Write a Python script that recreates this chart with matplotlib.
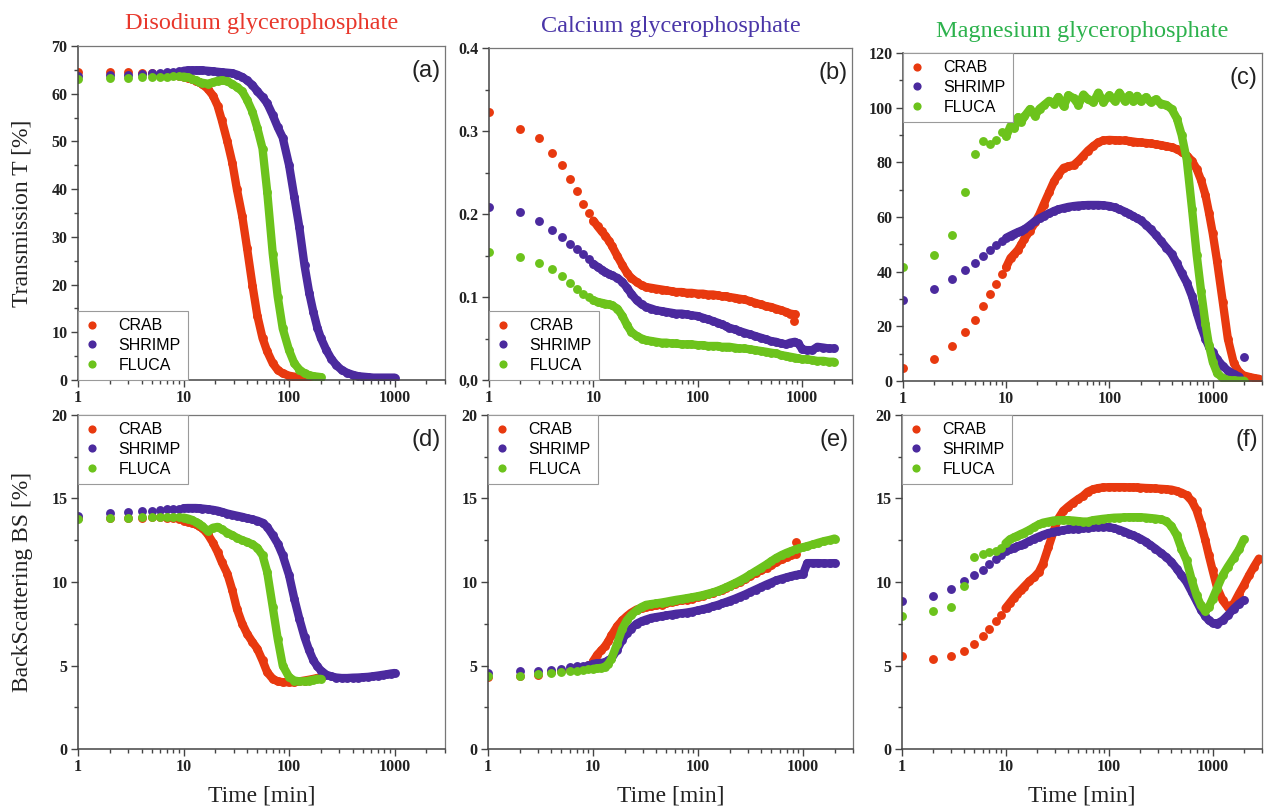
import numpy as np
import matplotlib
matplotlib.use("Agg")
import matplotlib.pyplot as plt
from matplotlib.lines import Line2D
from matplotlib.ticker import LogLocator, NullFormatter, MultipleLocator

W, H = 1266, 811

# sampling times [min], shared by all series (a series uses the first len(values))
TIME = [1, 2, 3, 4, 5, 6, 7, 8, 9, 10,
        11, 12, 13, 14, 15, 17, 19, 21, 23, 26,
        29, 32, 36, 40, 45, 50, 56, 62, 70, 78,
        87, 100, 112, 125, 140, 155, 170, 185, 200, 225,
        250, 280, 315, 355, 400, 450, 500, 560, 630, 700,
        770, 850, 920, 1000, 1100, 1250, 1400, 1600, 1800, 2000,
        2250, 2500, 2800]

# (a) transmission, disodium glycerophosphate
na_t_crab = [64.5, 64.5, 64.5, 64.4, 64.3, 64.2, 64.1, 64.0, 63.8, 63.6,
             63.3, 63.0, 62.7, 62.4, 62.0, 61.0, 59.6, 57.5, 54.5, 50.0,
             45.5, 40.0, 34.3, 27.6, 19.8, 13.5, 8.8, 6.0, 3.5, 2.1,
             1.4, 0.9, 0.7, 0.5, 0.4, 0.35]
na_t_shrimp = [63.8, 63.9, 64.0, 64.1, 64.3, 64.4, 64.5, 64.6, 64.7, 64.8,
               64.9, 64.9, 64.9, 64.9, 64.9, 64.8, 64.7, 64.6, 64.5, 64.4,
               64.3, 64.0, 63.5, 62.8, 61.8, 60.5, 59.3, 58.0, 55.5, 53.0,
               50.8, 45.0, 38.4, 32.0, 24.0, 18.3, 14.2, 11.0, 8.8, 6.3,
               4.5, 3.1, 2.1, 1.5, 1.1, 0.8, 0.7, 0.6, 0.5, 0.5,
               0.5, 0.5, 0.5, 0.5]
na_t_fluca = [63.0, 63.2, 63.3, 63.4, 63.4, 63.5, 63.6, 63.7, 63.7, 63.6,
              63.4, 63.1, 62.8, 62.5, 62.3, 62.1, 62.4, 62.7, 62.8, 62.6,
              62.0, 61.4, 60.5, 58.7, 56.2, 52.8, 48.5, 39.5, 26.5, 17.5,
              10.8, 6.2, 3.5, 2.2, 1.4, 1.0, 0.8, 0.7, 0.6]

# (b) transmission, calcium glycerophosphate
ca_t_crab = [0.323, 0.302, 0.291, 0.273, 0.259, 0.242, 0.228, 0.212, 0.201, 0.192,
             0.185, 0.179, 0.174, 0.168, 0.162, 0.149, 0.138, 0.129, 0.123, 0.118,
             0.114, 0.112, 0.111, 0.110, 0.109, 0.108, 0.107, 0.106, 0.106, 0.105,
             0.105, 0.104, 0.104, 0.103, 0.103, 0.102, 0.101, 0.101, 0.100, 0.099,
             0.098, 0.097, 0.095, 0.093, 0.091, 0.089, 0.088, 0.086, 0.084, 0.082,
             0.080, 0.079]
ca_t_shrimp = [0.208, 0.202, 0.191, 0.181, 0.172, 0.164, 0.158, 0.152, 0.146, 0.140,
               0.136, 0.133, 0.130, 0.128, 0.126, 0.123, 0.118, 0.111, 0.104, 0.096,
               0.091, 0.088, 0.086, 0.084, 0.083, 0.082, 0.081, 0.080, 0.080, 0.079,
               0.078, 0.077, 0.075, 0.073, 0.071, 0.069, 0.067, 0.065, 0.063, 0.061,
               0.059, 0.057, 0.055, 0.053, 0.051, 0.049, 0.047, 0.046, 0.044, 0.043,
               0.045, 0.046, 0.044, 0.037, 0.036, 0.036, 0.040, 0.039, 0.038, 0.038]
ca_t_fluca = [0.154, 0.148, 0.141, 0.134, 0.125, 0.117, 0.110, 0.104, 0.100, 0.096,
              0.094, 0.093, 0.092, 0.091, 0.090, 0.086, 0.077, 0.066, 0.058, 0.053,
              0.050, 0.048, 0.047, 0.046, 0.045, 0.045, 0.044, 0.044, 0.043, 0.043,
              0.043, 0.042, 0.042, 0.041, 0.041, 0.041, 0.040, 0.040, 0.040, 0.039,
              0.038, 0.038, 0.037, 0.036, 0.035, 0.034, 0.033, 0.032, 0.030, 0.029,
              0.028, 0.027, 0.026, 0.025, 0.025, 0.024, 0.023, 0.023, 0.022, 0.022]
ca_t_crab_extra = ([840], [0.071])

# (c) transmission, magnesium glycerophosphate
mg_t_crab = [4.8, 8.2, 12.8, 17.9, 22.4, 27.3, 32.0, 35.6, 39.0, 41.7,
             45.0, 46.5, 48.0, 50.0, 52.0, 55.0, 58.0, 61.0, 64.5, 69.0,
             73.0, 75.5, 78.0, 78.5, 79.0, 80.5, 82.5, 84.3, 86.0, 87.3,
             88.0, 88.2, 88.1, 88.0, 88.0, 87.8, 87.6, 87.4, 87.3, 87.1,
             86.9, 86.6, 86.3, 85.9, 85.5, 84.8, 83.8, 82.5, 80.5, 77.5,
             73.5, 68.0, 61.5, 54.0, 44.0, 29.0, 15.5, 6.5, 3.2, 2.0,
             1.5, 1.1, 0.8]
mg_t_shrimp = [29.8, 33.8, 37.3, 40.5, 43.2, 45.6, 47.8, 49.6, 51.2, 52.4,
               53.2, 53.9, 54.5, 55.0, 55.5, 57.0, 58.5, 59.5, 60.3, 61.3,
               62.2, 62.8, 63.3, 63.7, 64.0, 64.2, 64.3, 64.4, 64.4, 64.4,
               64.3, 64.0, 63.5, 62.8, 62.0, 61.2, 60.3, 59.5, 58.8, 57.2,
               55.5, 53.5, 51.2, 48.8, 46.5, 43.0, 39.5, 36.0, 31.0, 25.0,
               20.0, 15.5, 12.5, 10.5, 8.0, 5.5, 3.8, 2.5, 1.6]
mg_t_shrimp_extra = ([2000], [8.8])
mg_t_fluca = [41.7, 46.0, 53.5, 69.0, 83.2, 87.8, 86.6, 88.3, 91.0, 89.5,
              93.3, 92.5, 96.5, 94.8, 96.8, 99.5, 97.0, 99.6, 100.8, 102.5,
              101.5, 103.9, 100.5, 104.5, 103.5, 101.0, 104.8, 103.0, 102.0, 105.5,
              102.0, 104.5, 102.5, 105.5, 102.5, 104.5, 102.3, 104.3, 102.3, 103.8,
              102.0, 103.0, 101.5, 101.0, 99.5, 96.0, 90.0, 81.0, 63.0, 46.0,
              33.0, 21.0, 13.0, 7.0, 3.0, 1.0, 0.4, 0.2, 0.1, 0.1]

# (d) backscattering, disodium glycerophosphate
na_bs_crab = [13.82, 13.82, 13.82, 13.86, 13.88, 13.88, 13.86, 13.82, 13.76, 13.68,
              13.62, 13.55, 13.45, 13.35, 13.25, 12.85, 12.35, 11.8, 11.2, 10.5,
              9.5, 8.4, 7.5, 6.9, 6.4, 6.0, 5.3, 4.6, 4.2, 4.05,
              4.0, 4.0, 4.0, 4.05, 4.1, 4.15, 4.2, 4.25, 4.25]
na_bs_shrimp = [13.98, 14.12, 14.18, 14.24, 14.28, 14.32, 14.36, 14.38, 14.40, 14.42,
                14.43, 14.43, 14.43, 14.42, 14.40, 14.36, 14.32, 14.27, 14.20, 14.10,
                14.03, 13.97, 13.90, 13.82, 13.75, 13.67, 13.55, 13.30, 12.80, 12.30,
                11.60, 10.40, 9.00, 7.80, 6.70, 5.90, 5.30, 4.95, 4.70, 4.45,
                4.35, 4.28, 4.25, 4.25, 4.27, 4.28, 4.30, 4.32, 4.36, 4.40,
                4.44, 4.48, 4.52, 4.55]
na_bs_fluca = [13.76, 13.82, 13.84, 13.88, 13.90, 13.90, 13.90, 13.90, 13.88, 13.86,
               13.80, 13.72, 13.60, 13.50, 13.35, 13.05, 13.25, 13.30, 13.15, 12.95,
               12.80, 12.65, 12.50, 12.40, 12.25, 12.05, 11.60, 10.60, 8.50, 6.60,
               5.00, 4.30, 4.10, 4.05, 4.05, 4.10, 4.15, 4.20, 4.20]

# (e) backscattering, calcium glycerophosphate
ca_bs_crab = [4.29, 4.35, 4.45, 4.59, 4.65, 4.72, 4.80, 4.89, 5.05, 5.24,
              5.65, 5.90, 6.15, 6.45, 6.80, 7.35, 7.70, 7.95, 8.15, 8.35,
              8.45, 8.50, 8.55, 8.60, 8.65, 8.72, 8.80, 8.85, 8.90, 8.95,
              9.00, 9.10, 9.18, 9.27, 9.35, 9.45, 9.55, 9.65, 9.75, 9.90,
              10.00, 10.15, 10.35, 10.55, 10.70, 10.85, 11.00, 11.20, 11.35, 11.50,
              11.60, 11.70]
ca_bs_crab_extra = ([850], [12.4])
ca_bs_shrimp = [4.55, 4.65, 4.69, 4.75, 4.81, 4.89, 4.95, 4.99, 5.05, 5.10,
                5.13, 5.15, 5.20, 5.30, 5.42, 5.95, 6.55, 6.95, 7.20, 7.50,
                7.65, 7.75, 7.85, 7.90, 7.95, 8.00, 8.05, 8.10, 8.13, 8.17,
                8.22, 8.30, 8.37, 8.45, 8.55, 8.63, 8.72, 8.80, 8.88, 9.00,
                9.12, 9.25, 9.40, 9.55, 9.70, 9.85, 9.97, 10.10, 10.20, 10.28,
                10.35, 10.42, 10.45, 10.45, 11.13, 11.13, 11.13, 11.12, 11.12, 11.13]
ca_bs_fluca = [4.40, 4.40, 4.49, 4.55, 4.60, 4.65, 4.70, 4.75, 4.78, 4.80,
               4.83, 4.86, 4.92, 5.10, 5.40, 6.30, 7.20, 7.70, 8.00, 8.30,
               8.50, 8.63, 8.68, 8.72, 8.77, 8.82, 8.88, 8.93, 8.98, 9.03,
               9.08, 9.15, 9.22, 9.30, 9.38, 9.48, 9.58, 9.68, 9.78, 9.93,
               10.08, 10.25, 10.45, 10.65, 10.85, 11.05, 11.25, 11.45, 11.62, 11.75,
               11.85, 11.95, 12.02, 12.08, 12.15, 12.25, 12.35, 12.45, 12.52, 12.60]

# (f) backscattering, magnesium glycerophosphate
mg_bs_crab = [5.54, 5.40, 5.58, 5.88, 6.30, 6.74, 7.18, 7.64, 8.04, 8.43,
              8.75, 9.05, 9.30, 9.50, 9.70, 10.05, 10.30, 10.60, 11.10, 12.10,
              13.00, 13.75, 14.25, 14.50, 14.75, 14.95, 15.15, 15.40, 15.55, 15.62,
              15.66, 15.68, 15.68, 15.68, 15.68, 15.67, 15.67, 15.66, 15.65, 15.63,
              15.62, 15.60, 15.58, 15.56, 15.53, 15.45, 15.35, 15.20, 14.85, 14.30,
              13.50, 12.50, 11.60, 10.70, 9.70, 8.90, 8.50, 8.70, 9.30, 9.80,
              10.40, 10.90, 11.40]
mg_bs_shrimp = [8.87, 9.19, 9.61, 10.07, 10.39, 10.73, 11.07, 11.37, 11.63, 11.86,
                11.95, 12.05, 12.13, 12.20, 12.28, 12.45, 12.60, 12.72, 12.82, 12.93,
                13.00, 13.05, 13.10, 13.15, 13.18, 13.20, 13.22, 13.25, 13.28, 13.30,
                13.30, 13.28, 13.22, 13.13, 13.02, 12.90, 12.80, 12.70, 12.60, 12.42,
                12.22, 12.00, 11.75, 11.50, 11.20, 10.80, 10.40, 10.00, 9.40, 8.85,
                8.35, 7.95, 7.70, 7.55, 7.50, 7.70, 8.00, 8.40, 8.70, 8.90]
mg_bs_fluca = [7.98, 8.24, 8.53, 9.77, 11.49, 11.67, 11.80, 11.84, 12.02, 12.32,
               12.55, 12.67, 12.77, 12.87, 12.95, 13.12, 13.30, 13.45, 13.55, 13.62,
               13.68, 13.70, 13.70, 13.70, 13.68, 13.65, 13.62, 13.62, 13.70, 13.74,
               13.78, 13.82, 13.85, 13.86, 13.87, 13.88, 13.88, 13.88, 13.88, 13.86,
               13.83, 13.80, 13.75, 13.65, 13.35, 12.80, 12.00, 11.30, 10.10, 9.20,
               8.60, 8.25, 8.50, 9.00, 9.60, 10.40, 10.90, 11.45, 11.95, 12.55]

SAMPLES = ["CRAB", "SHRIMP", "FLUCA"]
COLORS = {"CRAB": "#e8390f", "SHRIMP": "#4b2a9e", "FLUCA": "#6cc31c"}
TITLES = ["Disodium glycerophosphate", "Calcium glycerophosphate", "Magnesium glycerophosphate"]
TITLE_COLORS = ["#e8372b", "#4a36a8", "#2db24d"]

LINE_FROM = 10  # from here on the readings are so dense they merge into a band
SERIF = "Liberation Serif"
SANS = "Liberation Sans"
MS = 6.4

fig = plt.figure(figsize=(W / 100, H / 100), dpi=100)


def px_axes(left, top, right, bottom):
    return fig.add_axes([left / W, 1 - bottom / H, (right - left) / W, (bottom - top) / H])


def draw_series(ax, values, color, extra=None):
    t = np.array(TIME[:len(values)], dtype=float)
    v = np.array(values, dtype=float)
    dense = t >= LINE_FROM
    ax.plot(t[dense], v[dense], "-", color=color, lw=6.0,
            solid_capstyle="round", solid_joinstyle="round")
    ax.plot(t, v, "o", color=color, ms=MS, mec="none")
    if extra is not None:
        ax.plot(extra[0], extra[1], "o", color=color, ms=MS, mec="none")


panels = [
    # box (px), series, extras, ymax, ystep, yminor, letter, legend loc
    ((78, 46, 445, 380), [na_t_crab, na_t_shrimp, na_t_fluca], {}, 70, 10, 5, "(a)", "lower left"),
    ((489, 48, 852, 380), [ca_t_crab, ca_t_shrimp, ca_t_fluca], {0: ca_t_crab_extra}, 0.4, 0.1, 0.05, "(b)", "lower left"),
    ((903, 53, 1262, 381), [mg_t_crab, mg_t_shrimp, mg_t_fluca], {1: mg_t_shrimp_extra}, 120, 20, 10, "(c)", "upper left"),
    ((78, 415, 445, 749), [na_bs_crab, na_bs_shrimp, na_bs_fluca], {}, 20, 5, 2.5, "(d)", "upper left"),
    ((488, 415, 853, 749), [ca_bs_crab, ca_bs_shrimp, ca_bs_fluca], {0: ca_bs_crab_extra}, 20, 5, 2.5, "(e)", "upper left"),
    ((902, 415, 1262, 749), [mg_bs_crab, mg_bs_shrimp, mg_bs_fluca], {}, 20, 5, 2.5, "(f)", "upper left"),
]

for i, (box, series, extras, ymax, ystep, yminor, letter, loc) in enumerate(panels):
    ax = px_axes(*box)
    for k, (name, vals) in enumerate(zip(SAMPLES, series)):
        draw_series(ax, vals, COLORS[name], extras.get(k))

    ax.set_xscale("log")
    ax.set_xlim(1, 3000)
    ax.set_ylim(0, ymax)

    xt = [1, 10, 100, 1000]
    ax.set_xticks(xt, [str(x) for x in xt], fontfamily=SERIF, fontweight="bold", fontsize=11.5)
    ax.xaxis.set_minor_locator(LogLocator(base=10, subs=np.arange(2, 10)))
    ax.xaxis.set_minor_formatter(NullFormatter())

    yt = np.arange(0, ymax + ystep / 2, ystep)
    if ystep < 1:
        ylab = ["0,0"] + ["%.1f" % y for y in yt[1:]]
    else:
        ylab = ["%d" % y for y in yt]
    ax.set_yticks(yt, ylab, fontfamily=SERIF, fontweight="bold", fontsize=11.5)
    ax.yaxis.set_minor_locator(MultipleLocator(yminor))

    ax.tick_params(which="both", direction="out", color="#444444", width=1.0,
                   top=False, right=False, labelcolor="#222222")
    ax.tick_params(which="major", length=5, pad=2.5)
    ax.tick_params(which="minor", length=3)
    for side in ("left", "bottom"):
        ax.spines[side].set_color("#444444")
        ax.spines[side].set_linewidth(1.1)
    for side in ("top", "right"):
        ax.spines[side].set_color("#777777")
        ax.spines[side].set_linewidth(0.9)

    ax.text(0.988, 0.925, letter, transform=ax.transAxes, ha="right", va="center",
            fontfamily=SANS, fontsize=17, color="#222222")

    handles = [Line2D([], [], ls="none", marker="o", ms=5.9, mec="none",
                      color=COLORS[n], label=n) for n in SAMPLES]
    leg = ax.legend(handles=handles, loc=loc, borderaxespad=0, fancybox=False,
                    framealpha=1, edgecolor="#9a9a9a", handlelength=0.9,
                    handletextpad=1.2, labelspacing=0.3, borderpad=0.45,
                    prop={"family": SANS, "size": 11.5})
    leg.get_frame().set_linewidth(0.8)

    if i < 3:
        ax.text(0.5, 1.066, TITLES[i], transform=ax.transAxes, ha="center", va="center",
                fontfamily=SERIF, fontsize=17.5, color=TITLE_COLORS[i])
    else:
        ax.set_xlabel("Time [min]", fontfamily=SERIF, fontsize=17, color="#222222")
        ax.xaxis.set_label_coords(0.5, -0.11)
    if i == 0:
        ax.set_ylabel("Transmission T [%]", fontfamily=SERIF, fontsize=17, color="#222222")
        ax.yaxis.set_label_coords(-0.123, 0.5)
    if i == 3:
        ax.set_ylabel("BackScattering BS [%]", fontfamily=SERIF, fontsize=17, color="#222222")
        ax.yaxis.set_label_coords(-0.123, 0.5)

fig.savefig("out.png", dpi=100)
